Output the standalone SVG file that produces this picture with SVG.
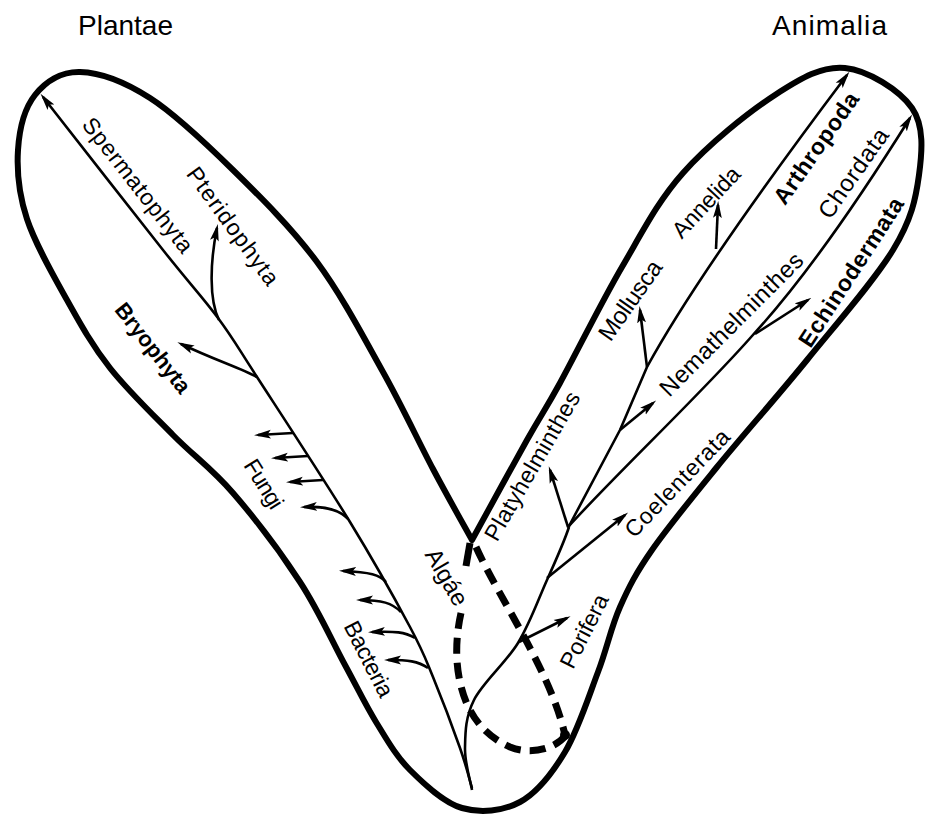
<svg xmlns="http://www.w3.org/2000/svg" width="925" height="815" viewBox="0 0 925 815">
<style>
.outline{fill:none;stroke:#000;stroke-width:6;stroke-linejoin:round}
.ln{fill:none;stroke:#000;stroke-width:2.6;stroke-linecap:butt;stroke-linejoin:round}
.arr{marker-end:url(#ah)}
.dash{fill:none;stroke:#000;stroke-width:7;stroke-dasharray:16 9}
.solid{fill:none;stroke:#000;stroke-width:7}
.t{font-family:"Liberation Sans",Arial,sans-serif;font-size:23px;fill:#000;text-anchor:middle;dominant-baseline:central}
.b{font-weight:bold}
.k{font-family:"Liberation Sans",Arial,sans-serif;font-size:28px;fill:#000}
</style>
<defs>
<marker id="ah" markerUnits="userSpaceOnUse" markerWidth="17" markerHeight="10" viewBox="0 0 17 10" refX="13" refY="5" orient="auto">
<path d="M0,0.6 L17,5 L0,9.4 L3.5,5 Z" fill="#000"/>
</marker>
</defs>

<g id="outline">
<path class="outline" d="M472,540 C465.5,528.2 447.8,497 433,469 C418.2,441 402.3,406.5 383,372 C363.7,337.5 342,295.7 317,262 C292,228.3 260.8,197.3 233,170 C205.2,142.7 175.5,114.3 150,98 C124.5,81.7 99.2,72.5 80,72 C60.8,71.5 45.3,82 35,95 C24.7,108 19.3,129.3 18,150 C16.7,170.7 18.8,194 27,219 C35.2,244 53.2,275.2 67,300 C80.8,324.8 92.3,345.5 110,368 C127.7,390.5 152.5,414.2 173,435 C193.5,455.8 211.8,468.5 233,493 C254.2,517.5 281.3,553.3 300,582 C318.7,610.7 332.3,641.7 345,665 C357.7,688.3 365.2,704.5 376,722 C386.8,739.5 395.7,755.7 410,770 C424.3,784.3 443.7,802.7 462,808 C480.3,813.3 502.8,811.3 520,802 C537.2,792.7 552,773.7 565,752 C578,730.3 588.8,696.2 598,672 C607.2,647.8 611,627.3 620,607 C629,586.7 635.8,573.3 652,550 C668.2,526.7 691.2,498.7 717,467 C742.8,435.3 777.7,396.2 807,360 C836.3,323.8 874.3,280.8 893,250 C911.7,219.2 915.8,198.7 919,175 C922.2,151.3 924.3,125.8 912,108 C899.7,90.2 867.8,70.2 845,68 C822.2,65.8 802,77.5 775,95 C748,112.5 708.5,144.3 683,173 C657.5,201.7 642.5,232 622,267 C601.5,302 575.8,354.2 560,383 C544.2,411.8 541.7,413.8 527,440 C512.3,466.2 481.2,523.3 472,540 Z"/>
</g>

<g id="algae-boundary">
<path class="solid" d="M470,543 L466,566"/>
<path class="dash" d="M461,613 C456,635 455,660 460,682 C467,715 485,736 510,747 C530,755 555,750 567,734"/>
<path class="dash" d="M476,547 C500,600 550,670 565,735"/>
<circle cx="565" cy="735" r="5" fill="#000"/>
</g>

<g id="connectors">
<path class="ln arr" d="M472,788 C470,781.3 466.5,766.5 460,748 C453.5,729.5 441.3,697.2 433,677 C424.7,656.8 423.8,652.8 410,627 C396.2,601.2 375.5,563.7 350,522 C324.5,480.3 279,411 257,377 C235,343 233.7,339.2 218,318 C202.3,296.8 192.2,286.8 163,250 C133.8,213.2 63,122.5 43,97"/>
<path class="ln arr" d="M219,320 C209,300 210,262 217,228"/>
<path class="ln arr" d="M257,377 C240,368 215,360 181,344"/>
<path class="ln arr" d="M293,433 L258,435"/>
<path class="ln arr" d="M308,456 L275,458"/>
<path class="ln arr" d="M323,480 L290,482"/>
<path class="ln arr" d="M348,519 C340,510 325,506 304,507"/>
<path class="ln arr" d="M386,582 C380,575 370,572 343,571"/>
<path class="ln arr" d="M401,612 C392,603 382,600 360,600"/>
<path class="ln arr" d="M415,638 C405,632 395,631 372,632"/>
<path class="ln arr" d="M428,668 C418,661 408,660 388,660"/>
<path class="ln" d="M472,790 C470.8,783 464.7,763 465,748 C465.3,733 465.2,717.5 474,700 C482.8,682.5 505.8,663 518,643 C530.2,623 538.3,599.3 547,580 C555.7,560.7 566.2,535.8 569,527"/>
<path class="ln arr" d="M519,642 L567,618"/>
<path class="ln arr" d="M547,578 L625,515"/>
<path class="ln arr" d="M568,527 L550,470"/>
<path class="ln arr" d="M568,528 L620,430 L647,367 Q700,270 847,75"/>
<path class="ln arr" d="M620,430 L653,403"/>
<path class="ln arr" d="M647,367 L640,310"/>
<path class="ln arr" d="M716,249 L718,205"/>
<path class="ln arr" d="M568,527 C620,470 700,395 752,336 Q820,262 910,118"/>
<path class="ln arr" d="M755,334 L808,300"/>
</g>

<g id="labels">
<text class="k" x="78" y="35" textLength="95">Plantae</text>
<text class="k" x="772" y="35" textLength="115">Animalia</text>
<g id="spermatophyta"><text class="t" transform="translate(138,185) rotate(52)" textLength="165">Spermatophyta</text></g>
<g id="pteridophyta"><text class="t" transform="translate(233,226) rotate(54)" textLength="140">Pteridophyta</text></g>
<g id="bryophyta"><text class="t b" style="font-size:22px" transform="translate(153,348) rotate(52)" textLength="108">Bryophyta</text></g>
<g id="fungi"><text class="t" transform="translate(264,484) rotate(58)" textLength="54">Fungi</text></g>
<g id="bacteria"><text class="t" transform="translate(369,659) rotate(63)" textLength="82">Bacteria</text></g>
<g id="algae"><text class="t" style="font-size:24px" transform="translate(447,577) rotate(60)" textLength="62">Algáe</text></g>
<g id="platyhelminthes"><text class="t" transform="translate(532,466) rotate(-60)" textLength="168">Platyhelminthes</text></g>
<g id="porifera"><text class="t" transform="translate(584,631) rotate(-63)" textLength="80">Porifera</text></g>
<g id="coelenterata"><text class="t" transform="translate(677,483) rotate(-46)" textLength="140">Coelenterata</text></g>
<g id="nemathelminthes"><text class="t" style="font-size:24px" transform="translate(731,324) rotate(-45)" textLength="192">Nemathelminthes</text></g>
<g id="mollusca"><text class="t" style="font-size:24px" transform="translate(630,300) rotate(-55)" textLength="92">Mollusca</text></g>
<g id="annelida"><text class="t" transform="translate(706,202) rotate(-47)" textLength="88">Annelida</text></g>
<g id="arthropoda"><text class="t b" transform="translate(816,148) rotate(-55)" textLength="131">Arthropoda</text></g>
<g id="chordata"><text class="t" style="font-size:24px" transform="translate(853,173) rotate(-55)" textLength="104">Chordata</text></g>
<g id="echinodermata"><text class="t b" transform="translate(851,272) rotate(-57)" textLength="173">Echinodermata</text></g>
</g>
</svg>
